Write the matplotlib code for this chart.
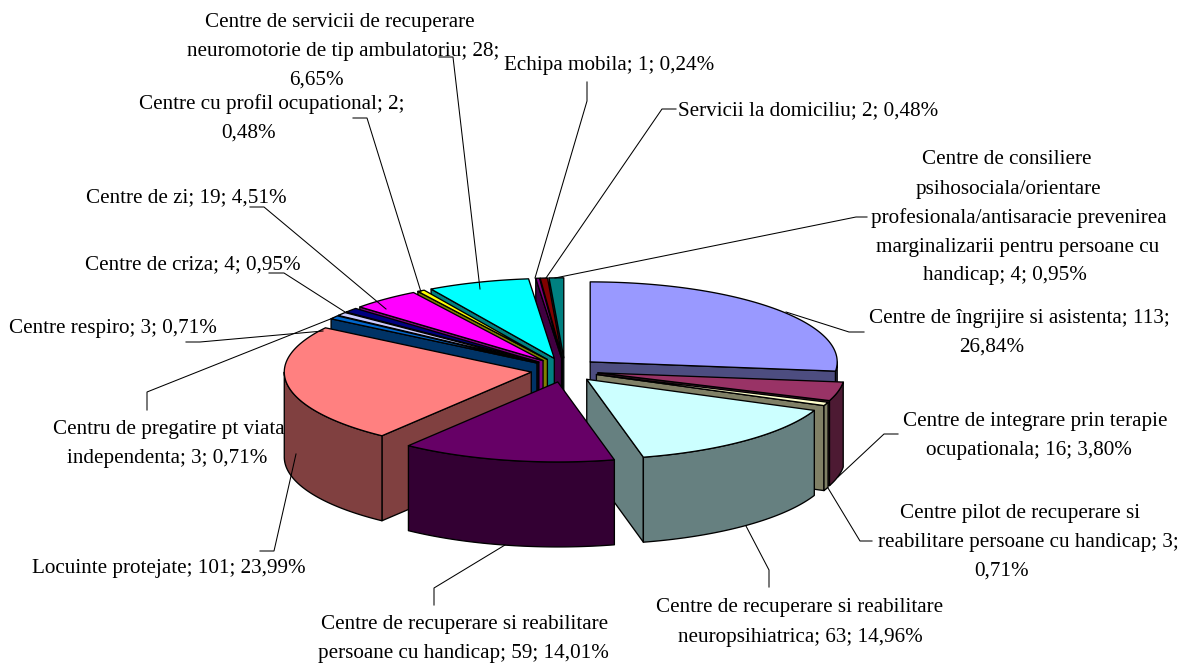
import numpy as np
import matplotlib
matplotlib.use("Agg")
import matplotlib.pyplot as plt
from matplotlib.patches import Polygon

# ---------- data ----------
categories = [
    "Centre de îngrijire si asistenta", "Centre de integrare prin terapie ocupationala",
    "Centre pilot de recuperare si reabilitare persoane cu handicap",
    "Centre de recuperare si reabilitare neuropsihiatrica",
    "Centre de recuperare si reabilitare persoane cu handicap", "Locuinte protejate",
    "Centru de pregatire pt viata independenta", "Centre respiro", "Centre de criza",
    "Centre de zi", "Centre cu profil ocupational",
    "Centre de servicii de recuperare neuromotorie de tip ambulatoriu", "Echipa mobila",
    "Servicii la domiciliu",
    "Centre de consiliere psihosociala/orientare profesionala/antisaracie prevenirea marginalizarii pentru persoane cu handicap",
]
values = [113, 16, 3, 63, 59, 101, 3, 3, 4, 19, 2, 28, 1, 2, 4]
colors = ["#9999FF", "#993366", "#FFFFCC", "#CCFFFF", "#660066", "#FF8080", "#0066CC", "#CCCCFF",
          "#000080", "#FF00FF", "#FFFF00", "#00FFFF", "#800080", "#800000", "#008080"]

# ---------- layout (pixels) ----------
W, H = 1189, 664
CX, CY = 564.8, 370.0
A, B = 247.0, 80.0
EX, EY = 34.0, 12.2
DEPTH = 85.0
FS = 15.2
LW = 0.95

label_lines = [
    ("Centre de servicii de recuperare", 339.5, 21), ("neuromotorie de tip ambulatoriu; 28;", 343, 50), ("6,65%", 316, 78),
    ("Echipa mobila; 1; 0,24%", 609, 64),
    ("Servicii la domiciliu; 2; 0,48%", 808, 109),
    ("Centre cu profil ocupational; 2;", 272, 103), ("0,48%", 249, 131),
    ("Centre de consiliere", 1007, 158), ("psihosociala/orientare", 1008, 188),
    ("profesionala/antisaracie prevenirea", 1019, 217), ("marginalizarii pentru persoane cu", 1018, 246),
    ("handicap; 4; 0,95%", 1005, 274),
    ("Centre de zi; 19; 4,51%", 186, 196),
    ("Centre de criza; 4; 0,95%", 193, 263),
    ("Centre respiro; 3; 0,71%", 113, 327),
    ("Centre de îngrijire si asistenta; 113;", 1019, 317), ("26,84%", 992, 345),
    ("Centre de integrare prin terapie", 1035, 420), ("ocupationala; 16; 3,80%", 1029, 449),
    ("Centru de pregatire pt viata", 169, 428), ("independenta; 3; 0,71%", 167, 457),
    ("Centre pilot de recuperare si", 1020, 512), ("reabilitare persoane cu handicap; 3;", 1028, 541), ("0,71%", 1002, 569),
    ("Locuinte protejate; 101; 23,99%", 168.5, 567),
    ("Centre de recuperare si reabilitare", 800, 606), ("neuropsihiatrica; 63; 14,96%", 800, 636),
    ("Centre de recuperare si reabilitare", 465, 623), ("persoane cu handicap; 59; 14,01%", 463.5, 652),
]

leaders = [
    [(439, 57), (453, 57), (480, 289)],
    [(587, 82), (587, 101), (535, 278)],
    [(676, 109), (662, 109), (546, 278)],
    [(353, 118), (367, 118), (421, 292)],
    [(867, 217), (856, 217), (555, 278)],
    [(250, 207), (264, 207), (386, 309)],
    [(269, 273), (284, 273), (345, 312)],
    [(186, 342), (200, 342), (323, 331)],
    [(147, 410), (147, 392), (333, 318)],
    [(864, 332), (849, 332), (786, 312)],
    [(898, 434), (884, 434), (838, 477)],
    [(872, 541), (860, 541), (828, 488)],
    [(260, 551), (274, 551), (296, 454)],
    [(769, 587), (769, 570), (746, 526)],
    [(434, 605), (434, 588), (505, 545)],
]

plt.rcParams["font.family"] = ["Liberation Serif", "DejaVu Serif"]
fig = plt.figure(figsize=(W / 100, H / 100), dpi=100, facecolor="white")
ax = fig.add_axes([0, 0, 1, 1])
ax.set_xlim(0, W)
ax.set_ylim(H, 0)
ax.axis("off")


def darken(c):
    r, g, b = matplotlib.colors.to_rgb(c)
    return (r * 0.5, g * 0.5, b * 0.5)


vals = np.asarray(values, float)
edges = np.concatenate([[0], np.cumsum(vals)]) / vals.sum() * 2 * np.pi
mids = (edges[:-1] + edges[1:]) / 2
order = np.argsort(-np.cos(mids))
z = 2.0


def rim(px, py, t):
    return np.column_stack([px + A * np.sin(t), py - B * np.cos(t)])


for i in order:
    t0, t1, tm = edges[i], edges[i + 1], mids[i]
    px, py = CX + EX * np.sin(tm), CY - EY * np.cos(tm)
    col, side = colors[i], darken(colors[i])
    style = dict(edgecolor="black", linewidth=LW, joinstyle="round")
    for t, vis in ((t0, np.sin(t0) < 0), (t1, np.sin(t1) > 0)):
        if vis:
            r = rim(px, py, np.array([t]))[0]
            face = [(px, py), tuple(r), (r[0], r[1] + DEPTH), (px, py + DEPTH)]
            ax.add_patch(Polygon(face, closed=True, facecolor=side, zorder=z, **style))
            z += 0.01
    lo, hi = max(t0, np.pi / 2), min(t1, 3 * np.pi / 2)
    if hi > lo:
        ts = np.linspace(lo, hi, 80)
        up = rim(px, py, ts)
        down = up[::-1] + np.array([0, DEPTH])
        ax.add_patch(Polygon(np.vstack([up, down]), closed=True, facecolor=side, zorder=z, **style))
        z += 0.01
    ts = np.linspace(t0, t1, max(6, int((t1 - t0) * 60)))
    top = np.vstack([[(px, py)], rim(px, py, ts)])
    ax.add_patch(Polygon(top, closed=True, facecolor=col, zorder=z, **style))
    z += 0.01

for pts in leaders:
    xs, ys = zip(*pts)
    ax.plot(xs, ys, color="black", lw=0.75, zorder=50, solid_joinstyle="miter")

for txt, x, y in label_lines:
    ax.text(x, y + 6.2, txt, ha="center", va="baseline", fontsize=FS, color="black", zorder=60)

fig.savefig("out.png", dpi=100, facecolor="white")
